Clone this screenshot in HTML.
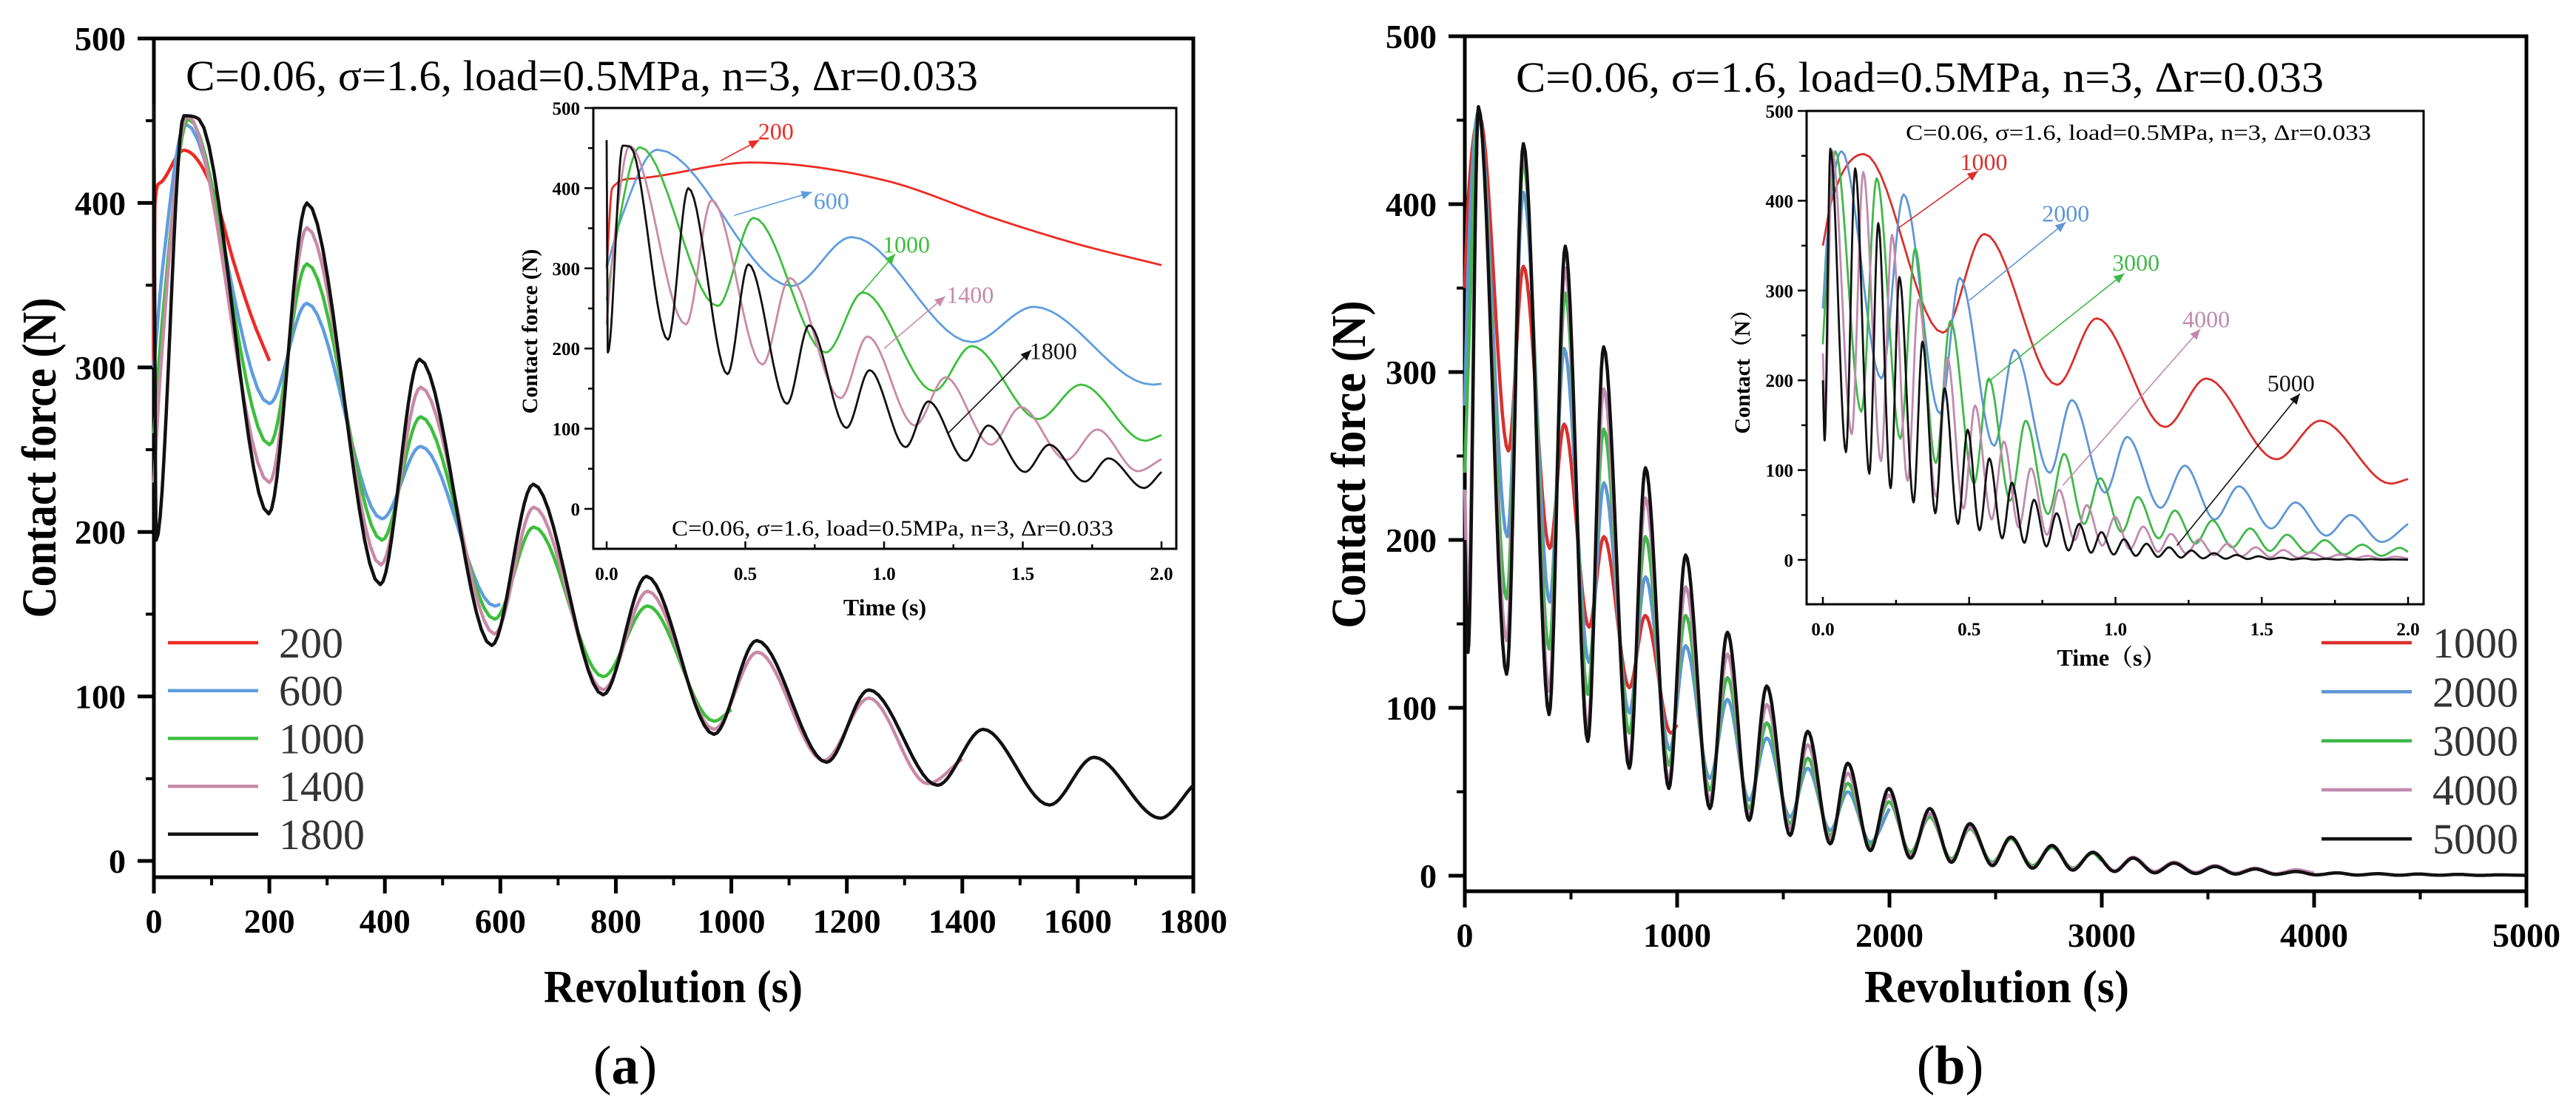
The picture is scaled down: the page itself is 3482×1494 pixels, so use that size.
<!DOCTYPE html>
<html><head><meta charset="utf-8"><style>
html,body{margin:0;padding:0;background:#fff;}
svg{display:block;}
text{font-family:"Liberation Serif","Noto Serif CJK SC",serif;}
</style></head>
<body>
<svg id="fig" xmlns="http://www.w3.org/2000/svg" width="3482" height="1494" viewBox="0 0 3482 1494"></svg>
<script>
// ---------- Panel (a) data: revolution vs contact force ----------
const aRedX   = [0,2,10,52,100,140,170,200];
const aRedY   = [300,400,412,432,410,362,330,304];
const aBlueX  = [0,15,55,200,265,395,462,590,600];
const aBlueY  = [300,360,448,278,339,208,252,155,156];
const aGreenX = [0,15,60,200,265,395,462,590,658,778,855,970,1000];
const aGreenY = [260,330,451,253,363,195,270,147,203,112,155,85,92];
const aPinkX  = [0,12,58,200,265,393,462,590,658,778,855,970,1045,1160,1238,1340,1400];
const aPinkY  = [230,300,453,230,385,180,288,138,215,104,164,80,127,61,99,47,62];
const aBlackX = [0,4,52,78,199,265,392,460,585,657,778,853,970,1044,1165,1238,1357,1436,1551,1628,1743,1800];
const aBlackY = [460,195,453,451,211,400,168,305,131,229,101,173,77,134,60,104,46,80,34,63,26,46];
const aNames  = ["200","600","1000","1400","1800"];
const aXTicks = [0,200,400,600,800,1000,1200,1400,1600,1800];
const aYTicks = [0,100,200,300,400,500];
const insTimeTicks = ["0.0","0.5","1.0","1.5","2.0"];
const aLabT = [0.61,0.81,1.08,1.31,1.61];
const aLabV = [471,384,330,267,197];
const aArrT0 = [0.41,0.46,0.92,1.00,1.23];
const aArrV0 = [434,366,270,200,94];
const aArrT1 = [0.55,0.74,1.04,1.22,1.53];
const aArrV1 = [460,395,318,265,198];

// ---------- Panel (b) data ----------
const bRedX   = [0,15,70,205,276,400,468,585,655,775,850,970,1000];
const bRedY   = [350,400,452,253,363,195,269,148,202,112,155,85,90];
const bBlueX  = [0,15,64,200,276,400,468,585,655,775,851,965,1040,1154,1237,1339,1422,1532,1615,1721,1804,1910,2000];
const bBlueY  = [280,360,455,202,407,163,314,127,234,97,178,75,137,58,105,45,82,35,64,27,50,20,40];
const bGreenX = [0,15,64,197,276,397,473,579,654,775,851,961,1040,1154,1237,1339,1422,1532,1615,1721,1804,1910,1997,2099,2190,2292,2379,2485,2572,2674,2765,2863,2958,3000];
const bGreenY = [240,300,455,165,425,135,347,108,266,85,202,66,155,51,118,40,91,31,70,24,55,18,44,14,35,10,28,8,22,6,17,4.5,13.5,9];
const bPinkX  = [0,15,64,197,276,397,473,579,654,775,851,961,1040,1154,1237,1339,1422,1532,1615,1721,1804,1910,1997,2099,2190,2292,2379,2485,2572,2674,2765,2863,2958,3060,3147,3249,3340,3442,3533,3630,3722,3820,3915,4000];
const bPinkY  = [230,160,456,140,432,110,362,88,290,70,225,57,172,45,132,36,102,28,78,22,61,16,48,12,37,9,29,7,23,5,18,4,14,3,11,2.5,8,2,6,1.5,4.5,1.2,3.5,1.5];
const bBlackX = [0,15,64,197,276,397,473,579,654,775,851,961,1040,1154,1237,1339,1422,1532,1615,1721,1804,1910,1997,2099,2190,2292,2379,2485,2572,2674,2765,2863,2958,3060,3147,3249,3340,3442,3533,3630,3722,3820,3915,4010,4108,4200,4300,4400,4490,4590,4680,4780,4870,5000];
const bBlackY = [200,133,458,120,436,96,375,80,315,64,243,52,191,40,145,33,113,24,86,19,67,15,52,10.5,40,8,31,6,23,4.5,18,3.3,14,2.5,10.5,1.7,7.5,1.3,5.5,1,4,0.8,2.5,0.5,1.7,0.4,1.2,0.3,1,0.3,0.8,0.2,0.5,0.2];
const bNames  = ["1000","2000","3000","4000","5000"];
const bXTicks = [0,1000,2000,3000,4000,5000];
const bYTicks = [0,100,200,300,400,500];
const bLabT = [0.55,0.83,1.07,1.31,1.60];
const bLabV = [443,386,331,268,197];
const bArrT0 = [0.26,0.50,0.56,0.82,1.21];
const bArrV0 = [370,289,197,83,16];
const bArrT1 = [0.53,0.83,1.03,1.29,1.63];
const bArrV1 = [433,376,319,257,185];

const NS = "http://www.w3.org/2000/svg";
const svg = document.getElementById('fig');
function mk(tag, attrs, parent){
  const e = document.createElementNS(NS, tag);
  for (const k in attrs) e.setAttribute(k, attrs[k]);
  (parent || svg).appendChild(e);
  return e;
}
function txt(str, attrs, parent){
  const e = mk('text', attrs, parent);
  e.textContent = str;
  return e;
}
function monoPath(xs, ys, sx, sy){
  const n = xs.length, d = [], m = new Array(n).fill(0);
  for (let i=0;i<n-1;i++) d.push((ys[i+1]-ys[i])/(xs[i+1]-xs[i]));
  m[0]=d[0]; m[n-1]=d[n-2];
  for (let i=1;i<n-1;i++) m[i] = (d[i-1]*d[i]<=0) ? 0 : (d[i-1]+d[i])/2;
  for (let i=0;i<n-1;i++){
    if (d[i]===0){ m[i]=0; m[i+1]=0; continue; }
    const a=m[i]/d[i], b=m[i+1]/d[i], s=a*a+b*b;
    if (s>9){ const t=3/Math.sqrt(s); m[i]=t*a*d[i]; m[i+1]=t*b*d[i]; }
  }
  let p = "M"+sx(xs[0]).toFixed(1)+","+sy(ys[0]).toFixed(1);
  for (let i=0;i<n-1;i++){
    const h = xs[i+1]-xs[i];
    for (let k=1;k<=14;k++){
      const t=k/14, t2=t*t, t3=t2*t;
      const y=(2*t3-3*t2+1)*ys[i]+(t3-2*t2+t)*h*m[i]+(-2*t3+3*t2)*ys[i+1]+(t3-t2)*h*m[i+1];
      p += " L"+sx(xs[i]+t*h).toFixed(1)+","+sy(y).toFixed(1);
    }
  }
  return p;
}

function drawPanel(P){
  const g = mk('g', {});
  
  
  const sx = v => P.x0 + (v-P.xmin)*(P.x1-P.x0)/(P.xmax-P.xmin);
  const sy = v => P.y0 - v*(P.y0-P.ytop)/500;
  let e = mk('rect', {x:P.x0, y:P.ytop, width:P.x1-P.x0, height:P.ybot-P.ytop, fill:'none', stroke:'#000', 'stroke-width':5}, g);
  
  
  for (let i=0;i<P.xticks.length;i++){
    const xv = P.xticks[i], X = sx(xv);
    e = mk('line', {x1:X, x2:X, y1:P.ybot, y2:P.ybot+22, stroke:'#000','stroke-width':5}, g);
    
    
    e = txt(String(xv), {x:X, y:P.ybot+75, 'text-anchor':'middle','font-size':46,'font-weight':'bold'}, g);
    
    
    if (i<P.xticks.length-1){
      const Xm = sx((xv+P.xticks[i+1])/2);
      e = mk('line', {x1:Xm, x2:Xm, y1:P.ybot, y2:P.ybot+11, stroke:'#000','stroke-width':4}, g);
      
      
    }
  }
  for (let i=0;i<P.yticks.length;i++){
    const yv = P.yticks[i], Y = sy(yv);
    e = mk('line', {x1:P.x0-22, x2:P.x0, y1:Y, y2:Y, stroke:'#000','stroke-width':5}, g);
    
    
    e = txt(String(yv), {x:P.x0-38, y:Y+16, 'text-anchor':'end','font-size':46,'font-weight':'bold'}, g);
    
    
    if (i<P.yticks.length-1){
      const Ym = sy(yv+50);
      e = mk('line', {x1:P.x0-11, x2:P.x0, y1:Ym, y2:Ym, stroke:'#000','stroke-width':4}, g);
      
      
    }
  }
  for (let s=0;s<P.series.length;s++){
    const S = P.series[s];
    e = mk('path', {d:monoPath(S.x, S.y, sx, sy), fill:'none', stroke:P.colors[s], 'stroke-width':4.5, 'stroke-linejoin':'round'}, g);
    
    
  }
  e = txt('Revolution (s)', {x:P.xtX, y:P.xtY, 'text-anchor':'middle','font-size':62,'font-weight':'bold', textLength:P.xtLen, lengthAdjust:'spacingAndGlyphs'}, g);
  
  
  e = txt('Contact force (N)', {x:0, y:0, 'text-anchor':'middle','font-size':66,'font-weight':'bold', textLength:P.ytLen, lengthAdjust:'spacingAndGlyphs', transform:'translate('+P.ytX+','+P.ytY+') rotate(-90)'}, g);
  
  
  e = txt('C=0.06, σ=1.6, load=0.5MPa, n=3, Δr=0.033', {x:P.annX, y:P.annY, 'font-size':58, textLength:P.annLen, lengthAdjust:'spacingAndGlyphs'}, g);
  
  
  for (let s=0;s<P.names.length;s++){
    const Y = P.legY0 + s*P.legDy;
    e = mk('line', {x1:P.legX, x2:P.legX+122, y1:Y, y2:Y, stroke:P.colors[s], 'stroke-width':4.5}, g);
    
    
    e = txt(P.names[s], {x:P.legX+150, y:Y+20, 'font-size':58, fill:'#333'}, g);
    
    
  }
  e = txt('', {x:P.letX, y:1465, 'text-anchor':'middle','font-size':74}, g);
  
  
  let t1 = mk('tspan', {}, e); t1.textContent='(';
  let t2 = mk('tspan', {'font-weight':'bold'}, e); t2.textContent=P.letter;
  let t3 = mk('tspan', {}, e); t3.textContent=')';

  drawInset(P.inset, P, g);
}

function drawInset(I, P, parent){
  const g = mk('g', {}, parent);
  
  
  const sx = t => I.tx0 + t*(I.tx2-I.tx0)/2;
  const sy = v => I.y0 - v*(I.y0-I.y500)/500;
  let e = mk('rect', {x:I.fx0, y:I.fy0, width:I.fx1-I.fx0, height:I.fy1-I.fy0, fill:'#fff', stroke:'#000','stroke-width':3}, g);
  
  
  for (let i=0;i<insTimeTicks.length;i++){
    const X = sx(i*0.5);
    e = mk('line', {x1:X, x2:X, y1:I.fy1, y2:I.fy1-10, stroke:'#000','stroke-width':2.5}, g);
    
    
    e = txt(insTimeTicks[i], {x:X, y:I.fy1+42, 'text-anchor':'middle','font-size':25,'font-weight':'bold'}, g);
    
    
    if (i<insTimeTicks.length-1){
      const Xm = sx(i*0.5+0.25);
      e = mk('line', {x1:Xm, x2:Xm, y1:I.fy1, y2:I.fy1-6, stroke:'#000','stroke-width':2.5}, g);
      
      
    }
  }
  for (let i=0;i<P.yticks.length;i++){
    const Y = sy(P.yticks[i]);
    e = mk('line', {x1:I.fx0-12, x2:I.fx0, y1:Y, y2:Y, stroke:'#000','stroke-width':2.5}, g);
    
    
    e = txt(String(P.yticks[i]), {x:I.fx0-18, y:Y+9, 'text-anchor':'end','font-size':25,'font-weight':'bold'}, g);
    
    
    if (i<P.yticks.length-1){
      const Ym = sy(P.yticks[i]+50);
      e = mk('line', {x1:I.fx0-7, x2:I.fx0, y1:Ym, y2:Ym, stroke:'#000','stroke-width':2.5}, g);
      
      
    }
  }
  for (let s=0;s<P.series.length;s++){
    const S = P.series[s], N = Number(P.names[s]);
    const tx = S.x.map(r => r*2/N);
    e = mk('path', {d:monoPath(tx, S.y, sx, sy), fill:'none', stroke:P.colors[s], 'stroke-width':2.8, 'stroke-linejoin':'round'}, g);
    
    
  }
  for (let s=0;s<P.names.length;s++){
    const x0=sx(I.arrT0[s]), y0=sy(I.arrV0[s]), x1=sx(I.arrT1[s]), y1=sy(I.arrV1[s]);
    e = mk('line', {x1:x0, y1:y0, x2:x1, y2:y1, stroke:P.colors[s], 'stroke-width':1.6}, g);
    
    
    const ang = Math.atan2(y1-y0, x1-x0), L=14, W=6;
    const bx = x1 - L*Math.cos(ang), by = y1 - L*Math.sin(ang);
    const pts = [x1+','+y1, (bx+W*Math.sin(ang))+','+(by-W*Math.cos(ang)), (bx-W*Math.sin(ang))+','+(by+W*Math.cos(ang))].join(' ');
    e = mk('polygon', {points:pts, fill:P.colors[s]}, g);
    
    
    e = txt(P.names[s], {x:sx(I.labT[s]), y:sy(I.labV[s])+11, 'text-anchor':'middle','font-size':32, fill:P.colors[s]}, g);
    
    
  }
  e = txt(I.xTitle, {x:I.xtX, y:I.xtY, 'text-anchor':'middle','font-size':32,'font-weight':'bold'}, g);
  
  
  e = txt(I.yTitle, {x:0, y:0, 'text-anchor':'middle','font-size':30,'font-weight':'bold', transform:'translate('+I.ytX+','+I.ytY+') rotate(-90)'}, g);
  
  
  e = txt('C=0.06, σ=1.6, load=0.5MPa, n=3, Δr=0.033', {x:I.annX, y:I.annY, 'font-size':30, textLength:I.annLen, lengthAdjust:'spacingAndGlyphs'}, g);
  
  
}

drawPanel({
  id:'a', letter:'a', x0:208, x1:1613, xmin:0, xmax:1800, y0:1164, ytop:52, ybot:1186,
  xticks:aXTicks, yticks:aYTicks, names:aNames,
  colors:['#ee2a24','#5f9ddf','#3cbf3c','#c98aa6','#111111'],
  series:[{x:aRedX,y:aRedY},{x:aBlueX,y:aBlueY},{x:aGreenX,y:aGreenY},{x:aPinkX,y:aPinkY},{x:aBlackX,y:aBlackY}],
  xtX:910, xtY:1355, xtLen:350, ytX:75, ytY:619, ytLen:433,
  annX:251, annY:122, annLen:1071,
  legX:227, legY0:869, legDy:64.7, letX:845,
  inset:{fx0:802, fx1:1590, fy0:146, fy1:742, tx0:820, tx2:1570, y0:688, y500:146,
    xTitle:'Time (s)', xtX:1196, xtY:832, yTitle:'Contact force (N)', ytX:726, ytY:448,
    annX:908, annY:724, annLen:597,
    labT:aLabT, labV:aLabV, arrT0:aArrT0, arrV0:aArrV0, arrT1:aArrT1, arrV1:aArrV1}
});
drawPanel({
  id:'b', letter:'b', x0:1980, x1:3415, xmin:0, xmax:5000, y0:1184, ytop:49, ybot:1205,
  xticks:bXTicks, yticks:bYTicks, names:bNames,
  colors:['#d9302c','#5f96d6','#3fb84a','#c08aae','#111111'],
  series:[{x:bRedX,y:bRedY},{x:bBlueX,y:bBlueY},{x:bGreenX,y:bGreenY},{x:bPinkX,y:bPinkY},{x:bBlackX,y:bBlackY}],
  xtX:2699, xtY:1355, xtLen:358, ytX:1845, ytY:628, ytLen:443,
  annX:2049, annY:124, annLen:1092,
  legX:3138, legY0:869, legDy:66.3, letX:2636,
  inset:{fx0:2442, fx1:3276, fy0:150, fy1:817, tx0:2464, tx2:3255, y0:757, y500:150,
    xTitle:'Time（s）', xtX:2854, xtY:900, yTitle:'Contact（N）', ytX:2365, ytY:495,
    annX:2576, annY:189, annLen:629,
    labT:bLabT, labV:bLabV, arrT0:bArrT0, arrV0:bArrV0, arrT1:bArrT1, arrV1:bArrV1}
});
</script>
</body></html>
